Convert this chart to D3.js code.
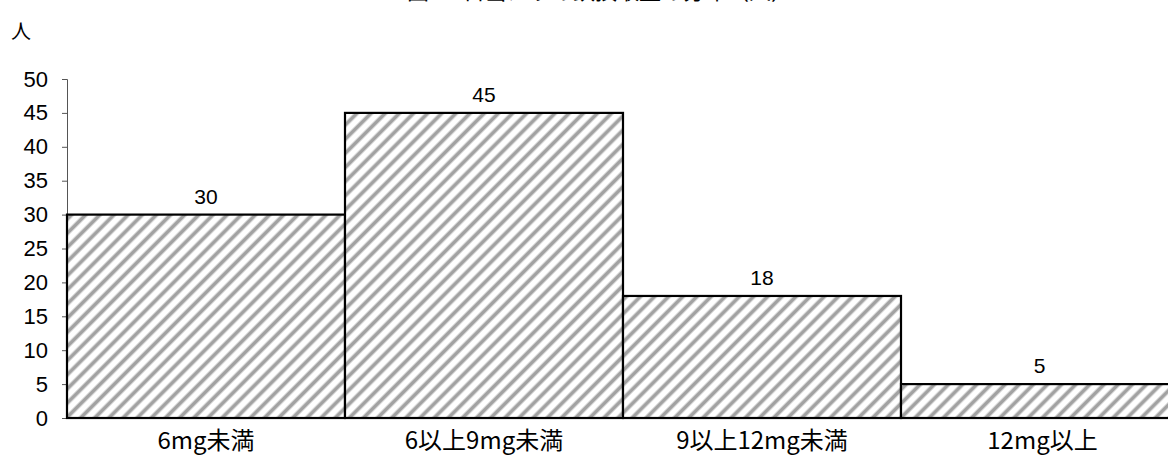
<!DOCTYPE html>
<html>
<head>
<meta charset="utf-8">
<script src="https://cdn.jsdelivr.net/npm/d3@7"></script>
<style>
  html, body { margin: 0; padding: 0; background: #fff; overflow: hidden; }
  svg { display: block; font-family: "Noto Sans CJK JP", sans-serif; }
</style>
</head>
<body>
<svg id="chart" width="1168" height="466"></svg>
<script>
// Iron intake distribution (number of people per band)
const categories = ["6mg未満", "6以上9mg未満", "9以上12mg未満", "12mg以上"];
const counts = [30, 45, 18, 5];
const yTicks = [0, 5, 10, 15, 20, 25, 30, 35, 40, 45, 50];
const yUnit = "人";
const title = "図　1日当たりの鉄摂取量の分布（人）";

const svg = d3.select("#chart");
const W = 1168, H = 466;
const margin = { left: 67, top: 79, bottom: 48 };
const plotRight = 1179;

const x = d3.scaleBand().domain(categories).range([margin.left, plotRight]).padding(0);
const y = d3.scaleLinear().domain([0, 50]).range([H - margin.bottom, margin.top]);

// diagonal hatch fill with soft-edged grey stripes
const defs = svg.append("defs");
const pat = defs.append("pattern")
  .attr("id", "hatch")
  .attr("patternUnits", "userSpaceOnUse")
  .attr("width", 10).attr("height", 10)
  .attr("patternTransform", "rotate(45)");
pat.append("rect").attr("width", 10).attr("height", 10).attr("fill", "#fff");
pat.append("rect").attr("x", 0).attr("width", 1).attr("height", 10).attr("fill", "#d8d8d8");
pat.append("rect").attr("x", 1).attr("width", 3).attr("height", 10).attr("fill", "#a2a2a2");
pat.append("rect").attr("x", 4).attr("width", 1).attr("height", 10).attr("fill", "#d8d8d8");

// title, running off the top edge
svg.append("text")
  .attr("x", 600).attr("y", -1)
  .attr("text-anchor", "middle")
  .attr("font-size", 22)
  .attr("fill", "#000")
  .text(title);

// unit label
svg.append("text")
  .attr("x", 11).attr("y", 39)
  .attr("font-size", 20)
  .text(yUnit);

// y axis
const yAxis = d3.axisLeft(y).tickValues(yTicks).tickSize(5).tickPadding(14);
const ga = svg.append("g").attr("transform", `translate(${margin.left},0)`).call(yAxis);
ga.select(".domain").attr("stroke", "#555").attr("stroke-width", 1);
ga.selectAll(".tick line").attr("stroke", "#555");
ga.selectAll(".tick text").attr("font-size", 22).attr("fill", "#000")
  .attr("font-family", "Liberation Sans, sans-serif");

// bars
svg.append("g").selectAll("rect")
  .data(categories)
  .join("rect")
  .attr("x", d => x(d))
  .attr("y", (d, i) => y(counts[i]))
  .attr("width", x.bandwidth())
  .attr("height", (d, i) => y(0) - y(counts[i]))
  .attr("fill", "url(#hatch)")
  .attr("stroke", "#000")
  .attr("stroke-width", 2.2);

// value labels
svg.append("g").selectAll("text")
  .data(categories)
  .join("text")
  .attr("x", (d, i) => i === 3 ? (x(d) + 1168) / 2 + 5 : x(d) + x.bandwidth() / 2)
  .attr("y", (d, i) => y(counts[i]) - 11)
  .attr("text-anchor", "middle")
  .attr("font-size", 21)
  .attr("font-family", "Liberation Sans, sans-serif")
  .text((d, i) => counts[i]);

// category labels
svg.append("g").selectAll("text")
  .data(categories)
  .join("text")
  .attr("x", (d, i) => i === 3 ? (x(d) + 1168) / 2 + 8 : x(d) + x.bandwidth() / 2)
  .attr("y", 449)
  .attr("text-anchor", "middle")
  .attr("font-size", 24)
  .text(d => d);
</script>
</body>
</html>
